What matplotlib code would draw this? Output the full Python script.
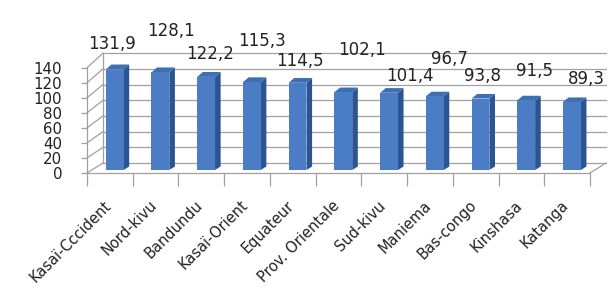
import matplotlib
matplotlib.use('Agg')
import matplotlib.pyplot as plt
from matplotlib.patches import Polygon

categories = ["Kasaï-Cccident", "Nord-kivu", "Bandundu", "Kasaï-Orient", "Equateur",
              "Prov. Orientale", "Sud-kivu", "Maniema", "Bas-congo", "Kinshasa", "Katanga"]
values = [131.9, 128.1, 122.2, 115.3, 114.5, 102.1, 101.4, 96.7, 93.8, 91.5, 89.3]
value_labels = ["131,9", "128,1", "122,2", "115,3", "114,5", "102,1",
                "101,4", "96,7", "93,8", "91,5", "89,3"]
y_ticks = [0, 20, 40, 60, 80, 100, 120, 140]

# data-label offsets in pixels (dx, dy) from the bar top (layout, not data)
label_offsets = [(2.6, -30), (15.4, -45.4), (8.7, -26.9), (15, -45.1), (7.2, -25.7),
                 (23.5, -46), (25.8, -20.5), (19, -41.1), (7.3, -26.3), (12.6, -33), (18.9, -26.7)]

plt.rcParams['font.family'] = ['DejaVu Sans']

W, H = 612, 287
fig = plt.figure(figsize=(W / 100, H / 100), dpi=100)
ax = fig.add_axes([87 / W, (H - 173) / H, 503 / W, 105.3 / H])
n = len(categories)
ax.set_xlim(0, n)
ax.set_ylim(0, 140)

DX, DY, S = 0.35, 13.3, 0.043
GRID = '#a0a0a0'


def proj(x, y, d):
    return x + d * DX, y * (1 + d * S) + d * DY


def line(p, q, **kw):
    ax.plot([p[0], q[0]], [p[1], q[1]], color=GRID, lw=0.9, clip_on=False, zorder=1, **kw)


# back wall grid and side wall
for v in y_ticks:
    line(proj(0, v, 1), proj(n, v, 1))
    line(proj(0, v, 0), proj(0, v, 1))
line(proj(0, 0, 1), proj(0, y_ticks[-1], 1))
line(proj(n, 0, 0), proj(n, 0, 1))

# bars
w, d0, d1 = 0.39, 0.3, 0.65
for i, v in enumerate(values):
    x0 = i + 0.5 - w / 2
    x1 = x0 + w
    front = [proj(x0, 0, d0), proj(x1, 0, d0), proj(x1, v, d0), proj(x0, v, d0)]
    side = [proj(x1, 0, d0), proj(x1, 0, d1), proj(x1, v, d1), proj(x1, v, d0)]
    top = [proj(x0, v, d0), proj(x1, v, d0), proj(x1, v, d1), proj(x0, v, d1)]
    for pts, col in ((side, '#2b5492'), (top, '#3d6fb3'), (front, '#4a7dc5')):
        ax.add_patch(Polygon(pts, closed=True, facecolor=col, edgecolor='none',
                             clip_on=False, zorder=3))
    dx, dy = label_offsets[i]
    ax.annotate(value_labels[i], xy=(i + 0.5, v), xytext=(dx * 0.72, -dy * 0.72),
                textcoords='offset points', ha='center', va='center', fontsize=12,
                color='#222222', zorder=5)
    ax.annotate(categories[i], xy=(i + 0.5, 0), xytext=(-1, -30 * 0.72),
                textcoords='offset points', ha='right', va='center', rotation=45,
                rotation_mode='anchor', fontsize=10.5, color='#222222')

for s in ('top', 'right'):
    ax.spines[s].set_visible(False)
for s in ('left', 'bottom'):
    ax.spines[s].set_color(GRID)
    ax.spines[s].set_linewidth(0.9)
    ax.spines[s].set_zorder(2)
ax.set_yticks(y_ticks)
ax.set_yticklabels([str(t) for t in y_ticks])
ax.yaxis.set_tick_params(length=4, width=0.9, color=GRID, pad=14, labelsize=10.8,
                         labelcolor='#222222')
ax.set_xticks(range(n + 1))
ax.set_xticklabels([])
ax.xaxis.set_tick_params(length=9, width=0.9, color=GRID)
ax.patch.set_visible(False)

fig.savefig('out.png', dpi=100, facecolor='white')
